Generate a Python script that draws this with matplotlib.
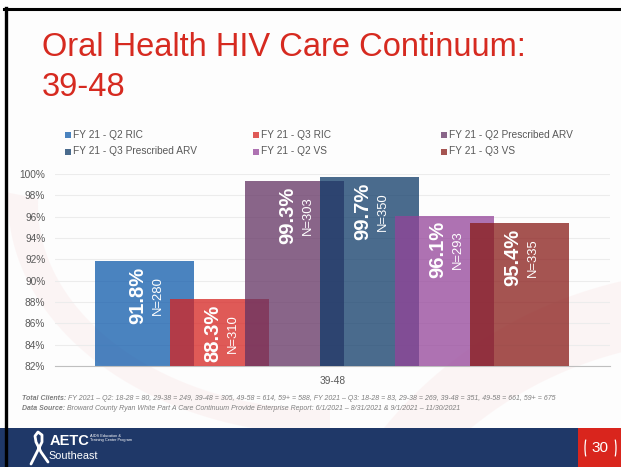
import numpy as np
import matplotlib
matplotlib.use("Agg")
import matplotlib.pyplot as plt
from matplotlib.patches import Rectangle, Arc, Polygon
from matplotlib.lines import Line2D
from matplotlib.text import Annotation

plt.rcParams['font.family'] = ['Liberation Sans', 'DejaVu Sans']

# data
category = "39-48"
series = ["FY 21 - Q2 RIC", "FY 21 - Q3 RIC", "FY 21 - Q2 Prescribed ARV",
          "FY 21 - Q3 Prescribed ARV", "FY 21 - Q2 VS", "FY 21 - Q3 VS"]
pcts = [91.8, 88.3, 99.3, 99.7, 96.1, 95.4]
counts = [280, 310, 303, 350, 293, 335]
colors = ["#0e5aab", "#d62320", "#633263", "#0e3a68", "#944499", "#881b18"]
yticks = [82, 84, 86, 88, 90, 92, 94, 96, 98, 100]

W, H = 621, 467
fig = plt.figure(figsize=(W / 100, H / 100), dpi=100)
fig.patch.set_facecolor("#fdfdfd")

def fx(px):
    return px / W

def fy(py):
    return 1 - py / H

# faint pink swooshes in the slide background
bg = fig.add_axes([0, 0, 1, 1], zorder=-5)
bg.set_xlim(0, W)
bg.set_ylim(H, 0)
bg.axis("off")
t = np.linspace(np.pi * 0.99, np.pi * 1.5, 60)
outer = np.c_[330 + 322 * np.cos(t), 200 - 235 * np.sin(t)]
inner = np.c_[330 + 292 * np.cos(t[::-1]), 205 - 205 * np.sin(t[::-1])]
bg.add_patch(Polygon(np.r_[outer, inner], closed=True, color="#f9dcdc", alpha=0.25, lw=0))
t2 = np.linspace(np.pi * 0.45, np.pi * 0.95, 80)
outer2 = np.c_[720 + 430 * np.cos(t2), 690 - 420 * np.sin(t2)]
inner2 = np.c_[720 + 380 * np.cos(t2[::-1]), 700 - 360 * np.sin(t2[::-1])]
bg.add_patch(Polygon(np.r_[outer2, inner2], closed=True, color="#f9dcdc", alpha=0.25, lw=0))

# title
tcol = "#d62a20"
fig.text(fx(42), fy(56), "Oral Health HIV Care Continuum:", fontsize=23.5,
         color=tcol, va="baseline")
fig.text(fx(42), fy(96), category, fontsize=23.5, color=tcol, va="baseline")

# legend (row-wise, 3 columns)
leg_x = [65, 253, 441]
leg_y = [134.5, 151.5]
for i, name in enumerate(series):
    mx = leg_x[i % 3]
    my = leg_y[i // 3]
    fig.add_artist(Rectangle((fx(mx), fy(my + 3)), 6 / W, 6 / H, transform=fig.transFigure,
                             color=colors[i], alpha=0.75, lw=0))
    fig.text(fx(mx + 8), fy(my), name, fontsize=7.3, color="#595959", va="center")

# chart
ax = fig.add_axes([fx(55), fy(366), fx(610) - fx(55), (366 - 174) / H])
ax.set_facecolor("none")
offsets = np.arange(len(series)) - (len(series) - 1) / 2
for i in range(len(series)):
    ax.bar(offsets[i], pcts[i] - 82, bottom=82, width=1.32, color=colors[i],
           alpha=0.75, lw=0, zorder=2 + i)
    ax.annotate(f"{pcts[i]}%", xy=(offsets[i], pcts[i]), xytext=(-5.4, -4),
                textcoords="offset points", rotation=90, ha="center", va="top",
                fontsize=14.5, fontweight="bold", color="white", zorder=20)
    ax.annotate(f"N={counts[i]}", xy=(offsets[i], pcts[i]), xytext=(9, -24.8),
                textcoords="offset points", rotation=90, ha="center", va="center",
                fontsize=9.4, color="white", zorder=20)

ax.set_xlim(-3.7, 3.7)
ax.set_ylim(82, 100)
ax.set_yticks(yticks)
ax.set_yticklabels([f"{v}%" for v in yticks])
ax.set_xticks([0])
ax.set_xticklabels([category])
ax.tick_params(axis="both", length=0, labelsize=7.3, colors="#595959")
ax.tick_params(axis="y", pad=7)
ax.tick_params(axis="x", pad=7.5)
ax.grid(axis="y", color="#ececec", lw=0.8, zorder=0)
for s in ["top", "right", "left"]:
    ax.spines[s].set_visible(False)
ax.spines["bottom"].set_color("#bfbfbf")
ax.spines["bottom"].set_linewidth(0.8)

# footnotes
fcol = "#7f7f7f"
t1 = fig.text(fx(22), fy(402), "Total Clients:", fontsize=5, style="italic",
              fontweight="bold", color=fcol, va="bottom")
fig.add_artist(Annotation(
    " FY 2021 \u2013 Q2: 18-28 = 80, 29-38 = 249, 39-48 = 305, 49-58 = 614, 59+ = 588, "
    "FY 2021 \u2013 Q3: 18-28 = 83, 29-38 = 269, 39-48 = 351, 49-58 = 661, 59+ = 675",
    xy=(1, 0), xycoords=t1, fontsize=5, style="italic", color=fcol, va="bottom", ha="left"))
t2 = fig.text(fx(22), fy(412), "Data Source:", fontsize=5, style="italic",
              fontweight="bold", color=fcol, va="bottom")
fig.add_artist(Annotation(
    " Broward County Ryan White Part A Care Continuum Provide Enterprise Report: "
    "6/1/2021 \u2013 8/31/2021 & 9/1/2021 \u2013 11/30/2021",
    xy=(1, 0), xycoords=t2, fontsize=5, style="italic", color=fcol, va="bottom", ha="left"))

# bottom banner
fig.add_artist(Rectangle((0, 0), 1, 39 / H, transform=fig.transFigure, color="#1f3868", lw=0, zorder=1))
fig.add_artist(Rectangle((fx(578), 0), 1 - fx(578), 39 / H, transform=fig.transFigure,
                         color="#d9251d", lw=0, zorder=2))
fig.text(fx(600), fy(448), "30", fontsize=11, color="white", ha="center", va="center", zorder=3)
fig.add_artist(Arc((fx(591), fy(448)), 12 / W, 34 / H, theta1=115, theta2=245,
                   transform=fig.transFigure, color="white", lw=0.9, zorder=3))
fig.add_artist(Arc((fx(610), fy(448)), 12 / W, 34 / H, theta1=-65, theta2=65,
                   transform=fig.transFigure, color="white", lw=0.9, zorder=3))

# logo
ov = fig.add_axes([0, 0, 1, 1], zorder=10)
ov.set_xlim(0, W)
ov.set_ylim(H, 0)
ov.axis("off")
ov.patch.set_alpha(0)
ov.plot([31, 37, 42, 42, 38, 35, 36, 41, 48], [464, 452, 442, 435, 432, 436, 442, 452, 462],
        color="white", lw=2.0, solid_capstyle="round", solid_joinstyle="round")
fig.text(fx(50), fy(445), "AETC", fontsize=10.5, fontweight="bold", color="white", va="baseline", zorder=12)
fig.text(fx(90), fy(438), "AIDS Education &\nTraining Center Program", fontsize=2.8, color="white",
         va="center", linespacing=1.3, zorder=12)
fig.text(fx(48), fy(459), "Southeast", fontsize=7.8, color="white", va="baseline", zorder=12)

# slide frame
fig.add_artist(Line2D([fx(4), 1], [fy(8.5), fy(8.5)], transform=fig.transFigure, color="black", lw=2.2))
fig.add_artist(Line2D([fx(5.5), fx(5.5)], [fy(8), 0], transform=fig.transFigure, color="black",
                      lw=2.4, zorder=15))

fig.savefig("out.png", dpi=100, facecolor=fig.get_facecolor())
